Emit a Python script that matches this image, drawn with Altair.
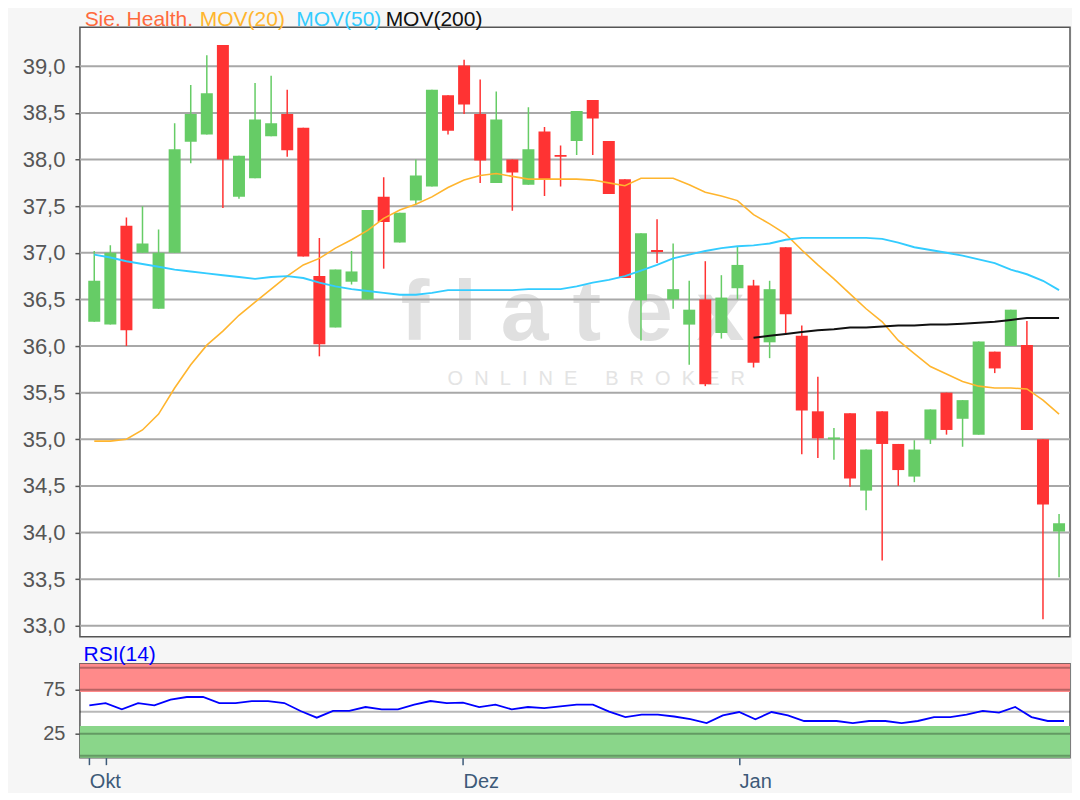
import altair as alt
import numpy as np
import pandas as pd

# ---------------- data ----------------
open_ = [36.26, 36.23, 37.29, 37.00, 36.40, 37.00, 38.19, 38.27, 39.23, 37.60,
         37.80, 38.25, 38.49, 38.34, 36.75, 36.20, 36.69, 36.50, 37.60, 37.11,
         37.56, 37.71, 38.69, 39.01, 38.49, 37.75, 38.00, 37.73, 38.30, 38.05,
         38.20, 38.64, 38.20, 37.79, 36.49, 37.03, 36.50, 36.23, 36.50, 36.14,
         36.62, 36.65, 36.04, 37.06, 36.11, 35.30, 35.00, 35.28, 34.45, 35.30,
         34.95, 34.60, 35.00, 35.50, 35.22, 35.05, 35.94, 36.00, 36.01, 35.00,
         34.01]
high_ = [37.02, 37.08, 37.38, 37.50, 37.25, 38.39, 38.80, 39.12, 39.23, 38.04,
         38.82, 38.90, 38.75, 38.34, 37.16, 36.82, 37.02, 37.46, 37.81, 37.43,
         38.00, 38.75, 38.69, 39.07, 38.86, 38.73, 38.00, 38.56, 38.35, 38.15,
         38.52, 38.64, 38.20, 37.79, 37.21, 37.36, 37.10, 36.70, 36.91, 36.76,
         37.07, 36.71, 36.70, 37.06, 36.22, 35.67, 35.12, 35.28, 34.89, 35.30,
         34.95, 34.99, 35.32, 35.50, 35.42, 36.05, 35.94, 36.39, 36.27, 35.00,
         34.20]
low_ = [36.26, 36.23, 36.00, 37.00, 36.40, 37.00, 37.96, 38.27, 37.48, 37.58,
        37.80, 38.25, 38.03, 36.96, 35.89, 36.20, 36.66, 36.50, 36.83, 37.11,
        37.52, 37.71, 38.27, 38.49, 37.75, 37.75, 37.45, 37.73, 37.61, 37.71,
        38.05, 38.05, 37.63, 36.73, 36.06, 36.89, 36.40, 35.80, 35.57, 36.08,
        36.50, 35.77, 35.87, 36.14, 34.84, 34.80, 34.78, 34.49, 34.24, 33.70,
        34.50, 34.54, 34.95, 35.05, 34.92, 35.05, 35.71, 36.00, 35.10, 33.07,
        33.52]
close_ = [36.70, 37.00, 36.17, 37.10, 37.00, 38.11, 38.49, 38.71, 38.00, 38.04,
          38.43, 38.39, 38.10, 36.96, 36.02, 36.82, 36.80, 37.46, 37.33, 37.43,
          37.83, 38.75, 38.31, 38.59, 37.99, 38.43, 37.86, 38.11, 37.79, 38.03,
          38.52, 38.44, 37.63, 36.73, 37.21, 37.01, 36.61, 36.39, 35.59, 36.52,
          36.87, 35.82, 36.61, 36.34, 35.31, 35.01, 35.02, 34.58, 34.89, 34.95,
          34.67, 34.89, 35.32, 35.10, 35.42, 36.05, 35.76, 36.39, 35.10, 34.30,
          34.10]
mov20 = [34.98, 34.98, 35.00, 35.10, 35.27, 35.55, 35.80, 36.01, 36.16, 36.33,
         36.47, 36.61, 36.75, 36.87, 36.94, 37.05, 37.14, 37.24, 37.37, 37.46,
         37.52, 37.60, 37.70, 37.78, 37.83, 37.85, 37.82, 37.79, 37.79, 37.79,
         37.79, 37.78, 37.75, 37.72, 37.80, 37.80, 37.80, 37.73, 37.65, 37.61,
         37.56, 37.41, 37.31, 37.20, 37.03, 36.87, 36.72, 36.56, 36.40, 36.26,
         36.06, 35.92, 35.78, 35.70, 35.62, 35.57, 35.55, 35.55, 35.54, 35.42,
         35.27]
mov50 = [36.98, 36.95, 36.91, 36.88, 36.85, 36.82, 36.80, 36.78, 36.76, 36.74,
         36.72, 36.74, 36.75, 36.73, 36.68, 36.64, 36.61, 36.59, 36.57, 36.55,
         36.55, 36.57, 36.60, 36.60, 36.60, 36.60, 36.60, 36.61, 36.61, 36.61,
         36.64, 36.68, 36.71, 36.75, 36.81, 36.87, 36.94, 36.98, 37.02, 37.05,
         37.07, 37.08, 37.10, 37.14, 37.16, 37.16, 37.16, 37.16, 37.16, 37.15,
         37.11, 37.06, 37.03, 37.00, 36.97, 36.93, 36.89, 36.82, 36.77, 36.70,
         36.60]
mov200_start = 41
mov200 = [36.09, 36.11, 36.13, 36.15, 36.17, 36.18, 36.20, 36.20, 36.21, 36.22,
          36.22, 36.23, 36.23, 36.24, 36.25, 36.26, 36.28, 36.30, 36.30, 36.30]
rsi14 = [57.2, 59.8, 52.7, 59.8, 57.2, 63.6, 66.7, 66.7, 59.8, 59.8,
         62.1, 62.1, 59.8, 50.8, 43.2, 50.8, 50.8, 55.3, 52.7, 52.7,
         58.0, 62.1, 59.8, 60.2, 55.3, 58.0, 52.7, 55.3, 54.0, 56.0,
         58.0, 58.0, 50.0, 43.9, 46.6, 46.6, 44.5, 41.5, 37.1, 45.8,
         49.6, 41.3, 49.6, 45.8, 39.4, 39.4, 39.4, 37.1, 39.4, 39.4,
         37.1, 39.4, 43.9, 43.9, 46.6, 50.8, 48.9, 55.3, 43.9, 39.4,
         39.4]
price_grid = [33.0, 33.5, 34.0, 34.5, 35.0, 35.5, 36.0, 36.5, 37.0, 37.5, 38.0, 38.5, 39.0]
rsi_grid = [0, 25, 50, 75, 100]
rsi_labels = [25, 75]
rsi_upper_zone = [72.3, 104.5]
rsi_lower_zone = [-2.3, 33.6]
month_ticks = [0, 1, 23, 40]
month_labels = ["Okt", "", "Dez", "Jan"]
title_parts = ["Sie. Health.", "MOV(20)", "MOV(50)", "MOV(200)"]
title_colors = ["#ff6a3d", "#ffb52e", "#33ccff", "#111111"]
title_offsets = [4.7, 120, 216.5, 306]
watermark_big = "f\u00a0l\u00a0a\u00a0t\u00a0e\u00a0x"
watermark_small = "\u00a0\u00a0".join("ONLINE") + "\u00a0" * 5 + "\u00a0\u00a0".join("BROKER")

# ---------------- tables ----------------
n = len(open_)
df = pd.DataFrame({"i": np.arange(n), "open": open_, "high": high_, "low": low_,
                   "close": close_, "mov20": mov20, "mov50": mov50, "rsi": rsi14})
df["dir"] = np.where(df["close"] >= df["open"], "up", "down")
df200 = pd.DataFrame({"i": np.arange(mov200_start, mov200_start + len(mov200)), "mov200": mov200})

W = 991
H_MAIN = 610
H_RSI = 94
AXIS_EXT = 71
FONT = "Liberation Sans"

x_scale = alt.Scale(domain=[-0.58, 60.37], nice=False, zero=False)
price_scale = alt.Scale(domain=[32.882, 39.418], nice=False, zero=False)
rsi_scale = alt.Scale(domain=[-2.3, 104.5], nice=False, zero=False)
color_scale = alt.Scale(domain=["up", "down"], range=["#66cc66", "#ff3333"])

price_axis = alt.Axis(values=price_grid, title=None, grid=False, domain=False,
                      labelExpr="replace(format(datum.value, '.1f'), '.', ',')",
                      tickSize=5, tickColor="#555555", tickWidth=1.5,
                      labelColor="#555555", labelFont=FONT, labelFontSize=22,
                      labelPadding=10, minExtent=AXIS_EXT, maxExtent=AXIS_EXT)
rsi_axis = alt.Axis(values=rsi_labels, title=None, grid=False, domain=False,
                    tickSize=5, tickColor="#555555", tickWidth=1.5,
                    labelColor="#555555", labelFont=FONT, labelFontSize=20,
                    labelPadding=10, minExtent=AXIS_EXT, maxExtent=AXIS_EXT)
label_expr = " : ".join(f"datum.value == {v} ? '{l}'" for v, l in zip(month_ticks, month_labels)) + " : ''"
month_axis = alt.Axis(values=month_ticks, labelExpr=label_expr, title=None, grid=False,
                      domain=False, tickSize=7, tickColor="#3d5a78", tickWidth=1.5,
                      labelColor="#3d5a78", labelFont=FONT, labelFontSize=20,
                      labelAlign="left", labelPadding=7, labelOverlap=False)

# ---------------- main price panel ----------------
base = alt.Chart(df)
X = alt.X("i:Q", scale=x_scale, axis=None)

wm1 = alt.Chart(pd.DataFrame({"t": [watermark_big]})).mark_text(
    align="left", baseline="alphabetic", font=FONT, fontSize=86, fontWeight="bold",
    color="#e0e0e0"
).encode(x=alt.value(321), y=alt.value(313), text="t:N")
wm2 = alt.Chart(pd.DataFrame({"t": [watermark_small]})).mark_text(
    align="left", baseline="alphabetic", font=FONT, fontSize=20, color="#e4e4e4"
).encode(x=alt.value(368), y=alt.value(358), text="t:N")

grid = alt.Chart(pd.DataFrame({"level": price_grid})).mark_rule(
    color="#a8a8a8", strokeWidth=2
).encode(y=alt.Y("level:Q", scale=price_scale, axis=price_axis))

wicks = base.mark_rule(strokeWidth=1.5, clip=True).encode(
    x=X, y=alt.Y("low:Q", scale=price_scale, axis=price_axis), y2="high:Q",
    color=alt.Color("dir:N", scale=color_scale, legend=None))
bodies = base.mark_bar(size=12, orient="vertical", clip=True).encode(
    x=X, y=alt.Y("open:Q", scale=price_scale, axis=price_axis), y2="close:Q",
    color=alt.Color("dir:N", scale=color_scale, legend=None))

l20 = base.mark_line(color="#ffb52e", strokeWidth=1.6, clip=True).encode(
    x=X, y=alt.Y("mov20:Q", scale=price_scale, axis=price_axis))
l50 = base.mark_line(color="#33ccff", strokeWidth=1.9, clip=True).encode(
    x=X, y=alt.Y("mov50:Q", scale=price_scale, axis=price_axis))
l200 = alt.Chart(df200).mark_line(color="#111111", strokeWidth=2, clip=True).encode(
    x=X, y=alt.Y("mov200:Q", scale=price_scale, axis=price_axis))

titles = [
    alt.Chart(pd.DataFrame({"t": [txt]})).mark_text(
        align="left", baseline="alphabetic", font=FONT, fontSize=21, color=col
    ).encode(x=alt.value(off), y=alt.value(-1), text="t:N")
    for txt, col, off in zip(title_parts, title_colors, title_offsets)
]

main = alt.layer(wm1, wm2, grid, wicks, bodies, l20, l50, l200, *titles).properties(
    width=W, height=H_MAIN)

# ---------------- RSI panel ----------------
upper = alt.Chart(pd.DataFrame({"lo": [rsi_upper_zone[0]], "hi": [rsi_upper_zone[1]]})).mark_rect(
    color="#ff8a8a").encode(x=alt.value(0), x2=alt.value(W),
                            y=alt.Y("lo:Q", scale=rsi_scale, axis=rsi_axis), y2="hi:Q")
lower = alt.Chart(pd.DataFrame({"lo": [rsi_lower_zone[0]], "hi": [rsi_lower_zone[1]]})).mark_rect(
    color="#8ad68a").encode(x=alt.value(0), x2=alt.value(W),
                            y=alt.Y("lo:Q", scale=rsi_scale, axis=rsi_axis), y2="hi:Q")
rgrid = alt.Chart(pd.DataFrame({"level": rsi_grid})).mark_rule(
    color="#000000", opacity=0.28, strokeWidth=2
).encode(y=alt.Y("level:Q", scale=rsi_scale, axis=rsi_axis))
rline = base.mark_line(color="#0000ff", strokeWidth=1.8).encode(
    x=alt.X("i:Q", scale=x_scale, axis=month_axis),
    y=alt.Y("rsi:Q", scale=rsi_scale, axis=rsi_axis))
rtitle = alt.Chart(pd.DataFrame({"t": ["RSI(14)"]})).mark_text(
    align="left", baseline="alphabetic", font=FONT, fontSize=21, color="#0000ff"
).encode(x=alt.value(3.6), y=alt.value(-2.7), text="t:N")

rsi = alt.layer(upper, lower, rgrid, rline, rtitle).properties(width=W, height=H_RSI)

chart = alt.vconcat(main, rsi, spacing=27, bounds="flush").properties(
    padding={"left": 0, "right": 0, "top": 0, "bottom": 0},
    background="#f6f6f6"
).configure(font=FONT).configure_view(stroke="#555555", strokeWidth=1.5, fill="white")

chart.save("out.html", embed_options={"renderer": "svg", "actions": False})
